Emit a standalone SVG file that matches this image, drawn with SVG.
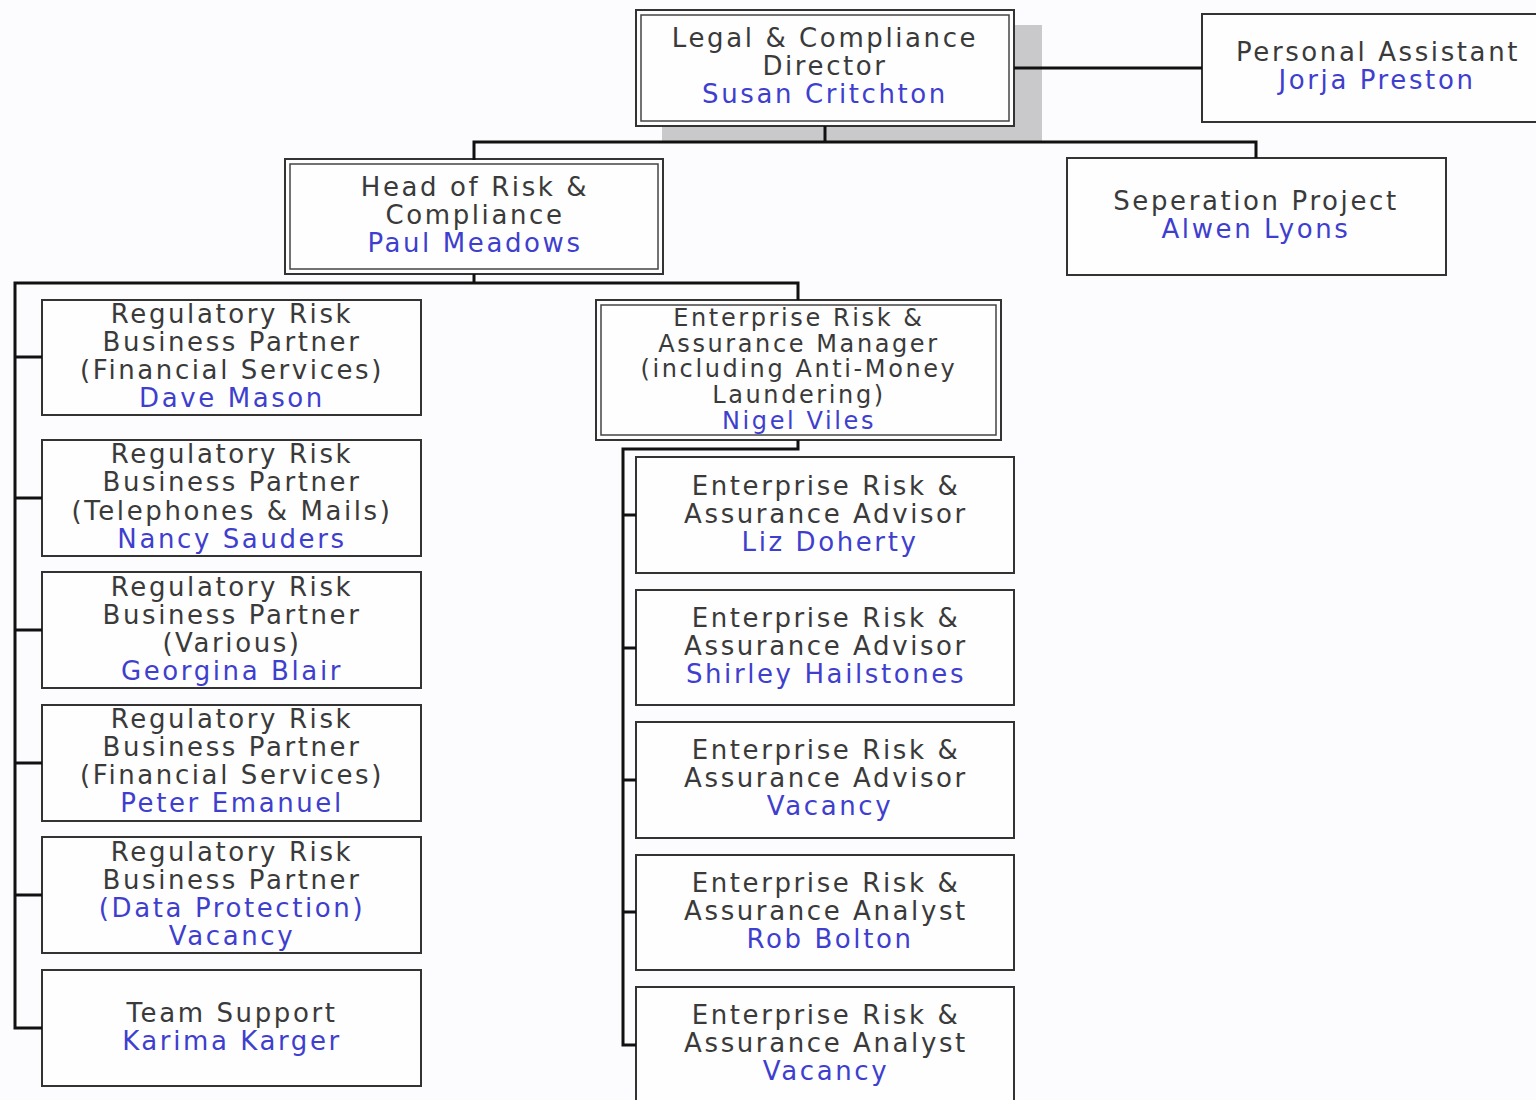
<svg xmlns="http://www.w3.org/2000/svg" width="1536" height="1100" viewBox="0 0 1536 1100">
<style>
.bg{fill:#fcfbfd}
.box{fill:#fefefe;stroke:#333;stroke-width:2}
.dbl{fill:none;stroke:#444;stroke-width:1.5}
.shadow{fill:#c9c8cb}
.conn{fill:none;stroke:#111;stroke-width:3}
text{font-family:"DejaVu Sans","Liberation Sans",sans-serif;font-size:26px;letter-spacing:2.6px;text-anchor:middle;fill:#3a3a3a}
.n{fill:#3f3fcf}
.sm{font-size:24px;letter-spacing:2.6px}
</style>
<rect class="bg" width="1536" height="1100"/>
<g id="director">
<rect class="shadow" x="662" y="25" width="380" height="117"/>
<rect class="box" x="636" y="10" width="378" height="116"/>
<rect class="dbl" x="641" y="15" width="368" height="106"/>
<text x="825" y="47">Legal &amp; Compliance</text>
<text x="825" y="75">Director</text>
<text class="n" x="825" y="103">Susan Critchton</text>
</g>
<g id="pa">
<rect class="box" x="1202" y="14" width="345" height="108"/>
<text x="1378" y="61">Personal Assistant</text>
<text class="n" x="1377" y="89">Jorja Preston</text>
</g>
<g id="head">
<rect class="box" x="285" y="159" width="378" height="115"/>
<rect class="dbl" x="290" y="164" width="368" height="105"/>
<text x="475" y="196">Head of Risk &amp;</text>
<text x="475" y="224">Compliance</text>
<text class="n" x="475" y="252">Paul Meadows</text>
</g>
<g id="separation">
<rect class="box" x="1067" y="158" width="379" height="117"/>
<text x="1256" y="210">Seperation Project</text>
<text class="n" x="1256" y="238">Alwen Lyons</text>
</g>
<g id="reg1">
<rect class="box" x="42" y="300" width="379" height="115"/>
<text x="232" y="323">Regulatory Risk</text>
<text x="232" y="351">Business Partner</text>
<text x="232" y="379">(Financial Services)</text>
<text class="n" x="232" y="407">Dave Mason</text>
</g>
<g id="reg2">
<rect class="box" x="42" y="440" width="379" height="116"/>
<text x="232" y="463">Regulatory Risk</text>
<text x="232" y="491">Business Partner</text>
<text x="232" y="520">(Telephones &amp; Mails)</text>
<text class="n" x="232" y="548">Nancy Sauders</text>
</g>
<g id="reg3">
<rect class="box" x="42" y="572" width="379" height="116"/>
<text x="232" y="596">Regulatory Risk</text>
<text x="232" y="624">Business Partner</text>
<text x="232" y="652">(Various)</text>
<text class="n" x="232" y="680">Georgina Blair</text>
</g>
<g id="reg4">
<rect class="box" x="42" y="705" width="379" height="116"/>
<text x="232" y="728">Regulatory Risk</text>
<text x="232" y="756">Business Partner</text>
<text x="232" y="784">(Financial Services)</text>
<text class="n" x="232" y="812">Peter Emanuel</text>
</g>
<g id="reg5">
<rect class="box" x="42" y="837" width="379" height="116"/>
<text x="232" y="861">Regulatory Risk</text>
<text x="232" y="889">Business Partner</text>
<text class="n" x="232" y="917">(Data Protection)</text>
<text class="n" x="232" y="945">Vacancy</text>
</g>
<g id="support">
<rect class="box" x="42" y="970" width="379" height="116"/>
<text x="232" y="1022">Team Support</text>
<text class="n" x="232" y="1050">Karima Karger</text>
</g>
<g id="manager">
<rect class="box" x="596" y="300" width="405" height="140"/>
<rect class="dbl" x="601" y="305" width="395" height="130"/>
<text class="sm" x="799" y="326">Enterprise Risk &amp;</text>
<text class="sm" x="799" y="352">Assurance Manager</text>
<text class="sm" x="799" y="377">(including Anti-Money</text>
<text class="sm" x="799" y="403">Laundering)</text>
<text class="sm n" x="799" y="429">Nigel Viles</text>
</g>
<g id="adv1">
<rect class="box" x="636" y="457" width="378" height="116"/>
<text x="826" y="495">Enterprise Risk &amp;</text>
<text x="826" y="523">Assurance Advisor</text>
<text class="n" x="830" y="551">Liz Doherty</text>
</g>
<g id="adv2">
<rect class="box" x="636" y="590" width="378" height="115"/>
<text x="826" y="627">Enterprise Risk &amp;</text>
<text x="826" y="655">Assurance Advisor</text>
<text class="n" x="826" y="683">Shirley Hailstones</text>
</g>
<g id="adv3">
<rect class="box" x="636" y="722" width="378" height="116"/>
<text x="826" y="759">Enterprise Risk &amp;</text>
<text x="826" y="787">Assurance Advisor</text>
<text class="n" x="830" y="815">Vacancy</text>
</g>
<g id="analyst1">
<rect class="box" x="636" y="855" width="378" height="115"/>
<text x="826" y="892">Enterprise Risk &amp;</text>
<text x="826" y="920">Assurance Analyst</text>
<text class="n" x="830" y="948">Rob Bolton</text>
</g>
<g id="analyst2">
<rect class="box" x="636" y="987" width="378" height="130"/>
<text x="826" y="1024">Enterprise Risk &amp;</text>
<text x="826" y="1052">Assurance Analyst</text>
<text class="n" x="826" y="1080">Vacancy</text>
</g>
<g id="connectors">
<polyline class="conn" points="825,126 825,142"/>
<polyline class="conn" points="474,160 474,142 1256,142 1256,158"/>
<polyline class="conn" points="1014,68 1202,68"/>
<polyline class="conn" points="474,274 474,283"/>
<polyline class="conn" points="798,300 798,283 15,283 15,1028 42,1028"/>
<polyline class="conn" points="15,357 42,357"/>
<polyline class="conn" points="15,498 42,498"/>
<polyline class="conn" points="15,630 42,630"/>
<polyline class="conn" points="15,763 42,763"/>
<polyline class="conn" points="15,895 42,895"/>
<polyline class="conn" points="798,440 798,449 623,449 623,1045 636,1045"/>
<polyline class="conn" points="623,515 636,515"/>
<polyline class="conn" points="623,648 636,648"/>
<polyline class="conn" points="623,780 636,780"/>
<polyline class="conn" points="623,912 636,912"/>
</g>
</svg>
